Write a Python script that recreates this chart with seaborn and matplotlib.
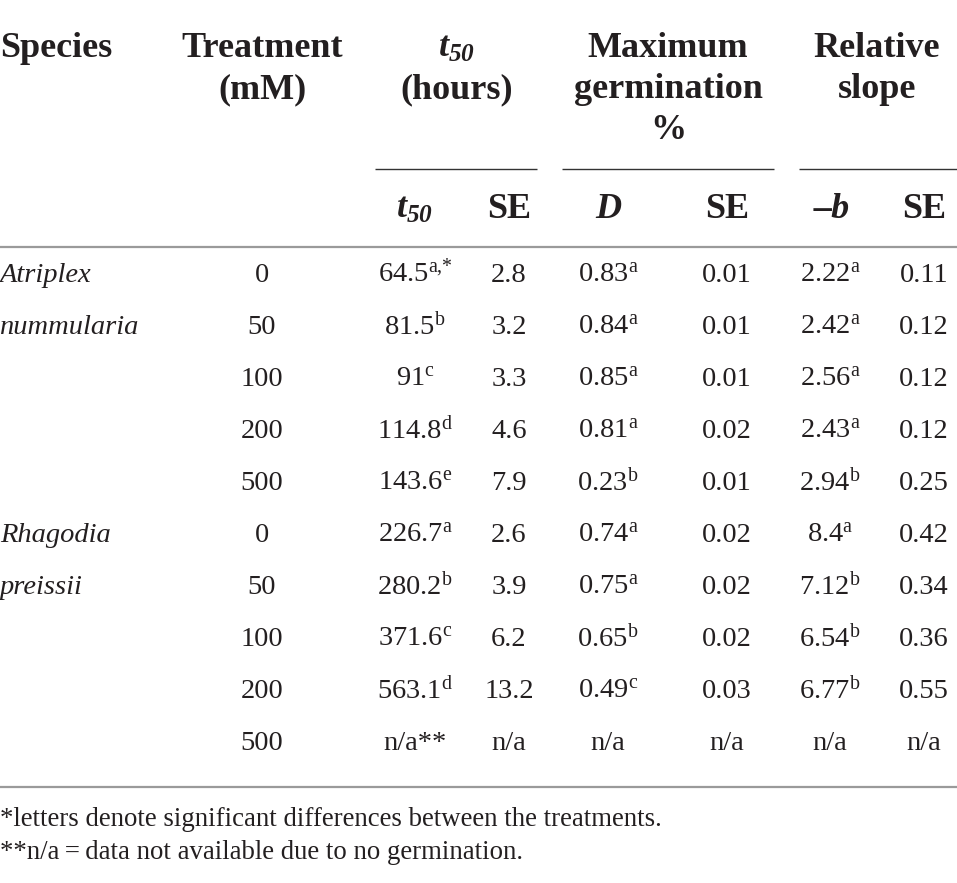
import matplotlib.pyplot as plt
import seaborn as sns
import pandas as pd

# table contents
species = ["Atriplex", "nummularia", "", "", "", "Rhagodia", "preissii", "", "", ""]
treatment = ["0", "50", "100", "200", "500", "0", "50", "100", "200", "500"]
t50 = ["64.5", "81.5", "91", "114.8", "143.6", "226.7", "280.2", "371.6", "563.1", "n/a**"]
t50_sig = ["a{,}{*}", "b", "c", "d", "e", "a", "b", "c", "d", ""]
t50_se = ["2.8", "3.2", "3.3", "4.6", "7.9", "2.6", "3.9", "6.2", "13.2", "n/a"]
d_val = ["0.83", "0.84", "0.85", "0.81", "0.23", "0.74", "0.75", "0.65", "0.49", "n/a"]
d_sig = ["a", "a", "a", "a", "b", "a", "a", "b", "c", ""]
d_se = ["0.01", "0.01", "0.01", "0.02", "0.01", "0.02", "0.02", "0.02", "0.03", "n/a"]
b_val = ["2.22", "2.42", "2.56", "2.43", "2.94", "8.4", "7.12", "6.54", "6.77", "n/a"]
b_sig = ["a", "a", "a", "a", "b", "a", "b", "b", "b", ""]
b_se = ["0.11", "0.12", "0.12", "0.12", "0.25", "0.42", "0.34", "0.36", "0.55", "n/a"]

footnotes = ["*letters denote significant differences between the treatments.",
             "**n/a\u2009=\u2009data not available due to no germination."]

df = pd.DataFrame({
    'Species': species, 'Treatment': treatment,
    't50': t50, 't50_sig': t50_sig, 't50_se': t50_se,
    'D': d_val, 'D_sig': d_sig, 'D_se': d_se,
    'b': b_val, 'b_sig': b_sig, 'b_se': b_se,
})

sns.set_theme(style='white')
plt.rcParams['font.family'] = ['Liberation Serif', 'DejaVu Serif']
plt.rcParams['mathtext.fontset'] = 'custom'
plt.rcParams['mathtext.rm'] = 'Liberation Serif'
plt.rcParams['mathtext.it'] = 'Liberation Serif:italic'
plt.rcParams['mathtext.bf'] = 'Liberation Serif:bold'
plt.rcParams['mathtext.bfit'] = 'Liberation Serif:italic:bold'

ink = '#231f20'
fs_data = 20.5
fs_head = 26
fs_note = 19.3

fig = plt.figure(figsize=(9.57, 8.83), dpi=100)
ax = fig.add_axes([0, 0, 1, 1])
ax.set_xlim(0, 957)
ax.set_ylim(883, 0)
ax.axis('off')


def sup(v, s):
    if s == "":
        return v
    return v + r"$^{\mathrm{" + s + "}}$"


# header
hb = [57, 98, 139]
ax.text(0, hb[0], "Species", ha='left', va='baseline', fontsize=fs_head, fontweight='bold', color=ink)
ax.text(262, hb[0], "Treatment", ha='center', va='baseline', fontsize=fs_head, fontweight='bold', color=ink)
ax.text(262, hb[1], "(mM)", ha='center', va='baseline', fontsize=fs_head, fontweight='bold', color=ink)
ax.text(457, hb[0], r"$\mathbfit{t}_{\mathbfit{50}}$", ha='center', va='baseline', fontsize=fs_head, color=ink)
ax.text(457, hb[1], "(hours)", ha='center', va='baseline', fontsize=fs_head, fontweight='bold', color=ink)
for i, line in enumerate(["Maximum", "germination", "%"]):
    ax.text(668, hb[i], line, ha='center', va='baseline', fontsize=fs_head, fontweight='bold', color=ink)
for i, line in enumerate(["Relative", "slope"]):
    ax.text(877, hb[i], line, ha='center', va='baseline', fontsize=fs_head, fontweight='bold', color=ink)

# spanner rules
ax.hlines(169, 375, 537, color='#333333', lw=1.0)
ax.hlines(169, 562, 774, color='#333333', lw=1.0)
ax.hlines(169, 799, 957, color='#333333', lw=1.0)

# sub header
sb = 218
ax.text(415, sb, r"$\mathbfit{t}_{\mathbfit{50}}$", ha='center', va='baseline', fontsize=fs_head, color=ink)
ax.text(509, sb, "SE", ha='center', va='baseline', fontsize=fs_head, fontweight='bold', color=ink)
ax.text(608, sb, "D", ha='center', va='baseline', fontsize=fs_head, fontweight='bold', fontstyle='italic', color=ink)
ax.text(727, sb, "SE", ha='center', va='baseline', fontsize=fs_head, fontweight='bold', color=ink)
ax.text(832, sb, "\u2013b", ha='center', va='baseline', fontsize=fs_head, fontweight='bold', fontstyle='italic', color=ink)
ax.text(924, sb, "SE", ha='center', va='baseline', fontsize=fs_head, fontweight='bold', color=ink)

ax.hlines(247, 0, 957, color='#9a9a9a', lw=1.6)

# body
for i, r in df.iterrows():
    y = 282 + 52 * i
    ax.text(0, y, r['Species'], ha='left', va='baseline', fontsize=fs_data, fontstyle='italic', color=ink)
    ax.text(262, y, r['Treatment'], ha='center', va='baseline', fontsize=fs_data, color=ink)
    ax.text(415, y, sup(r['t50'], r['t50_sig']), ha='center', va='baseline', fontsize=fs_data, color=ink)
    ax.text(509, y, r['t50_se'], ha='center', va='baseline', fontsize=fs_data, color=ink)
    ax.text(608, y, sup(r['D'], r['D_sig']), ha='center', va='baseline', fontsize=fs_data, color=ink)
    ax.text(727, y, r['D_se'], ha='center', va='baseline', fontsize=fs_data, color=ink)
    ax.text(830, y, sup(r['b'], r['b_sig']), ha='center', va='baseline', fontsize=fs_data, color=ink)
    ax.text(924, y, r['b_se'], ha='center', va='baseline', fontsize=fs_data, color=ink)

ax.hlines(787, 0, 957, color='#9a9a9a', lw=1.6)

for i, line in enumerate(footnotes):
    ax.text(0, 826 + 33 * i, line, ha='left', va='baseline', fontsize=fs_note, color=ink)

plt.savefig('out.png', dpi=100)
plt.close()
